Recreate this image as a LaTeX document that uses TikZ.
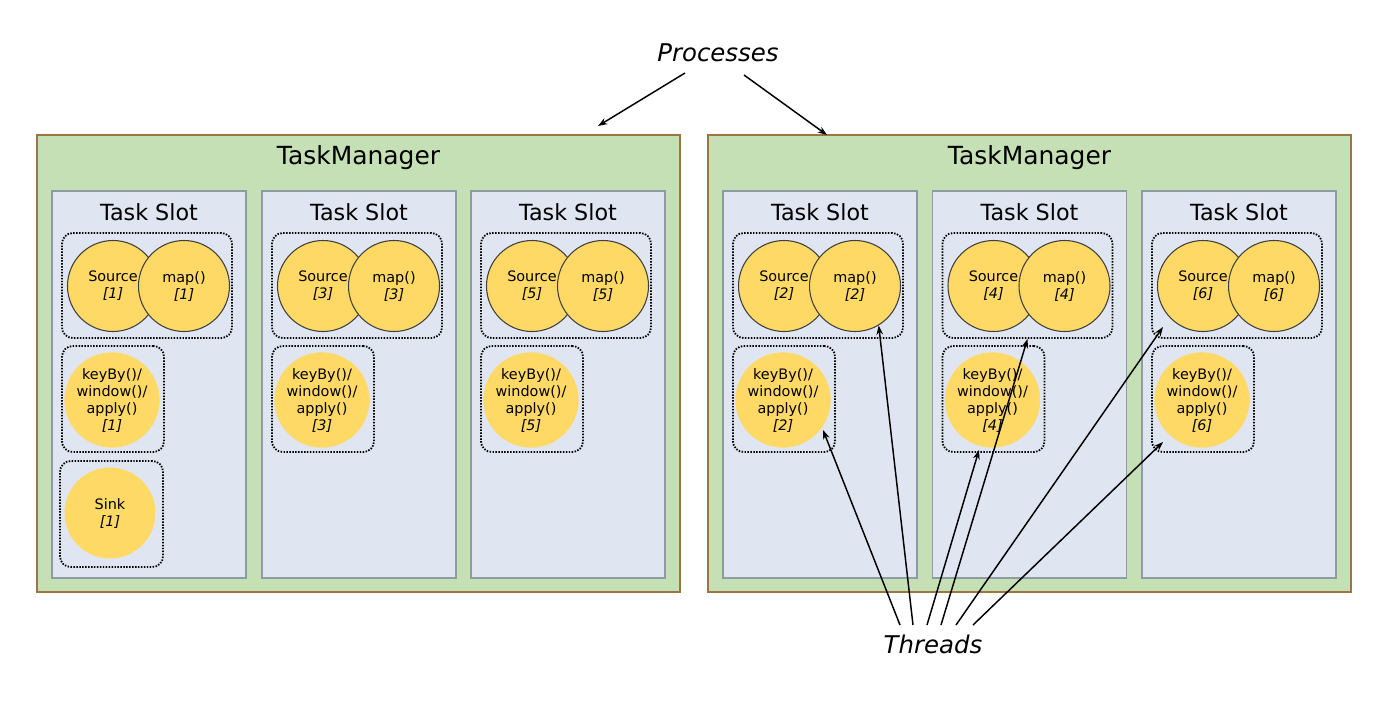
\documentclass[tikz,border=0pt]{standalone}
\usepackage{fontspec}
\setmainfont{DejaVu Sans}
\usetikzlibrary{arrows.meta}
\definecolor{tmgreen}{HTML}{C5E0B4}
\definecolor{tmbrown}{HTML}{9C7445}
\definecolor{slotfill}{HTML}{DFE6F1}
\definecolor{slotdraw}{HTML}{8E9BA3}
\definecolor{opfill}{HTML}{FFD966}
\definecolor{opdraw}{HTML}{404040}
\begin{document}
\begin{tikzpicture}[x=0.75pt,y=-0.75pt,
 tmbox/.style={draw=tmbrown, fill=tmgreen, line width=1.2pt, minimum width=482.25pt, minimum height=342.75pt, inner sep=0},
 slotbox/.style={draw=slotdraw, fill=slotfill, line width=1.2pt, minimum width=145.5pt, minimum height=290.25pt, inner sep=0},
 grpbox/.style={draw=black, line width=1.35pt, dash pattern=on 1.1pt off 1.1pt, rounded corners=8pt, inner sep=0},
 opcirc/.style={circle, fill=opfill, minimum size=68.25pt, inner sep=0, align=center, font=\fontsize{10.8}{12.75}\selectfont},
 opline/.style={opcirc, draw=opdraw, line width=0.8pt},
 title/.style={font=\fontsize{18.7}{22}\selectfont},
 slottitle/.style={font=\fontsize{16.7}{19}\selectfont},
 italab/.style={font=\fontsize{18.3}{22}\selectfont\itshape},
 arr/.style={-{Stealth[length=7pt,width=5pt]}, line width=1.1pt},
]
\useasboundingbox (0,0) rectangle (1374,700);
% TaskManagers
\node[tmbox] (tm1) at (358.5,363.5) {};
\node[tmbox] (tm2) at (1029.5,363.5) {};
\node[title] (tmt1) at (358.5,158) {TaskManager};
\node[title] (tmt2) at (1029.5,158) {TaskManager};
% Slots
\foreach \i/\n/\x in {1/1/149, 2/3/359, 3/5/568, 4/2/820, 5/4/1029.5, 6/6/1239} {
  \node[slotbox] (slot\i) at (\x,384.5) {};
  \node[slottitle] (st\i) at (\x,212) {Task Slot};
  \node[grpbox, minimum width=127.5pt, minimum height=78.75pt] (grp\i) at (\x-2,285.5) {};
  \node[opline] (src\i) at (\x-36,286) {Source\\\textit{[\n]}};
  \node[opline] (map\i) at (\x+35,286) {map()\\\textit{[\n]}};
  \node[grpbox, minimum width=76.5pt, minimum height=79.5pt] (kbox\i) at (\x-36,399) {};
  \node[opcirc] (kw\i) at (\x-37,400) {keyBy()/\\window()/\\apply()\\\textit{[\n]}};
}
\node[grpbox, minimum width=77.25pt, minimum height=79.5pt] (sinkbox) at (111.5,514) {};
\node[opcirc] (sink) at (110,513) {Sink\\\textit{[1]}};
% Labels
\node[italab] (proc) at (718,53) {Processes};
\node[italab] (threads) at (933,644) {Threads};
% Processes arrows
\coordinate (p1) at (685,73);
\coordinate (p2) at (744,75);
\coordinate (ph1) at (598,126);
\coordinate (ph2) at (827,135);
\draw[arr] (p1) -- (ph1);
\draw[arr] (p2) -- (ph2);
% Threads arrows
\coordinate (t1) at (900,625);
\coordinate (t2) at (913,625);
\coordinate (t3) at (927,625);
\coordinate (t4) at (941,625);
\coordinate (t5) at (956,625);
\coordinate (t6) at (973,625);
\coordinate (h1) at (823,430);
\coordinate (h3) at (979,450);
\coordinate (h5) at (1163,327);
\coordinate (h6) at (1163,442);
\draw[arr] (t1) -- (h1);
\draw[arr] (t2) -- (map4.-59);
\draw[arr] (t3) -- (h3);
\draw[arr] (t4) -- (grp5.south);
\draw[arr] (t5) -- (h5);
\draw[arr] (t6) -- (h6);
\end{tikzpicture}
\end{document}
